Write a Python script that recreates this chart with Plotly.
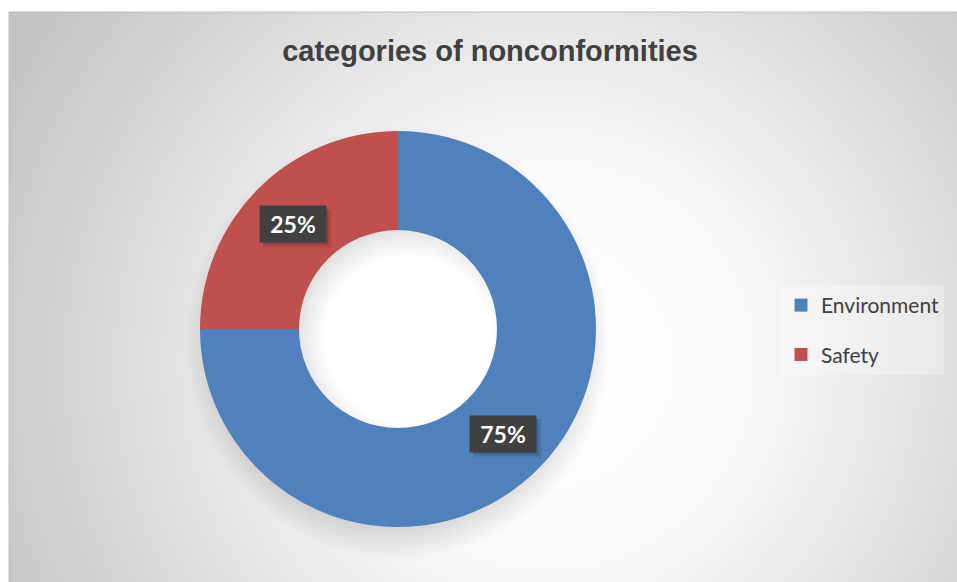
import base64, math
import plotly.graph_objects as go

categories = ["Environment", "Safety"]
values = [75, 25]
colors = ["#4F81BD", "#C0504D"]
title_text = "categories of nonconformities"

W, H = 957, 582
# chart-area frame (pixels)
FX0, FY0 = 9, 12
# donut placement (pixels) -> domain (paper)
cx_px, cy_px, r_px = 398, 329, 198
dom_x = [(cx_px - r_px) / W, (cx_px + r_px) / W]
dom_y = [1 - (cy_px + r_px) / H, 1 - (cy_px - r_px) / H]
hole = 0.5

fw, fh = W - FX0, H - FY0
hcx, hcy, hr = cx_px - FX0, cy_px - FY0, r_px * hole
svg = f'''<svg xmlns="http://www.w3.org/2000/svg" width="{fw}" height="{fh}" viewBox="0 0 {fw} {fh}">
<defs><radialGradient id="g" gradientUnits="userSpaceOnUse" cx="{fw*0.57:.0f}" cy="{fh*0.62:.0f}" r="{fw*0.64:.0f}">
<stop offset="0" stop-color="#ffffff"/><stop offset="0.3" stop-color="#fbfbfb"/><stop offset="1" stop-color="#c4c4c4"/>
</radialGradient>
<radialGradient id="s" cx="0.5" cy="0.5" r="0.5">
<stop offset="0.82" stop-color="#000" stop-opacity="0.16"/><stop offset="1" stop-color="#000" stop-opacity="0"/>
</radialGradient>
<radialGradient id="h" cx="0.55" cy="0.55" r="0.55">
<stop offset="0.75" stop-color="#ffffff"/><stop offset="1" stop-color="#e2e2e2"/>
</radialGradient></defs>
<rect width="{fw}" height="{fh}" fill="url(#g)"/>
<ellipse cx="{hcx}" cy="{hcy+14}" rx="{r_px+14}" ry="{r_px+18}" fill="url(#s)"/>
<circle cx="{hcx}" cy="{hcy}" r="{hr+2}" fill="url(#h)"/>
</svg>'''
src = "data:image/svg+xml;base64," + base64.b64encode(svg.encode()).decode()

fig = go.Figure()
fig.add_trace(go.Pie(
    labels=categories, values=values, hole=hole, sort=False, direction="clockwise",
    rotation=0, marker=dict(colors=colors, line=dict(width=0)),
    textinfo="none", showlegend=False, domain=dict(x=dom_x, y=dom_y),
))
for c, col in zip(categories, colors):
    fig.add_trace(go.Scatter(x=[None], y=[None], mode="markers", name=c,
                             legendgroup=c,
                             marker=dict(symbol="square", size=13, color=col)))

# percentage labels at slice mid-angles
total = sum(values)
start = 0.0
r_mid = r_px * (1 + hole) / 2
cxp, cyp = (dom_x[0] + dom_x[1]) / 2, (dom_y[0] + dom_y[1]) / 2
shapes = []
for v in values:
    frac = v / total
    mid = (start + frac / 2) * 2 * math.pi
    start += frac
    ax = cxp + r_mid * math.sin(mid) / W
    ay = cyp + r_mid * math.cos(mid) / H
    # soft drop shadow behind the label box
    for k, op in ((6, 0.05), (4, 0.08), (2, 0.12)):
        shapes.append(dict(type="rect", xref="paper", yref="paper", xsizemode="pixel",
                           ysizemode="pixel", xanchor=ax, yanchor=ay,
                           x0=-33 + 3, x1=33 + k, y0=-18 - k, y1=18 - 3,
                           fillcolor=f"rgba(0,0,0,{op})", line=dict(width=0), layer="above"))
    fig.add_annotation(x=ax, y=ay, xref="paper", yref="paper", xanchor="center",
                       yanchor="middle", text=f"<b>{round(frac*100)}%</b>", showarrow=False,
                       bgcolor="#404040", borderpad=4, width=58, height=28,
                       font=dict(family="Lato", size=23, color="#ffffff"))

shapes.append(dict(type="rect", xref="paper", yref="paper", x0=FX0 / W, y0=-0.01, x1=1.01,
                   y1=1 - FY0 / H, line=dict(color="#bfbfbf", width=1), layer="below"))

fig.update_layout(
    width=W, height=H, margin=dict(l=0, r=0, t=0, b=0),
    paper_bgcolor="#ffffff", plot_bgcolor="rgba(0,0,0,0)",
    title=dict(text=f"<b>{title_text}</b>", x=490 / W, xanchor="center",
               y=1 - 51 / H, yanchor="middle",
               font=dict(family="Liberation Sans", size=29, color="#404040")),
    xaxis=dict(visible=False), yaxis=dict(visible=False),
    legend=dict(x=781 / W, xanchor="left", y=1 - 285 / H, yanchor="top",
                bgcolor="rgba(255,255,255,0.3)", tracegroupgap=19, itemwidth=30,
                font=dict(family="Lato", size=21, color="#404040")),
    images=[dict(source=src, xref="paper", yref="paper", x=FX0 / W, y=1 - FY0 / H,
                 sizex=fw / W, sizey=fh / H, sizing="stretch", layer="below",
                 xanchor="left", yanchor="top")],
    shapes=shapes,
)
fig.write_html("out.html")
